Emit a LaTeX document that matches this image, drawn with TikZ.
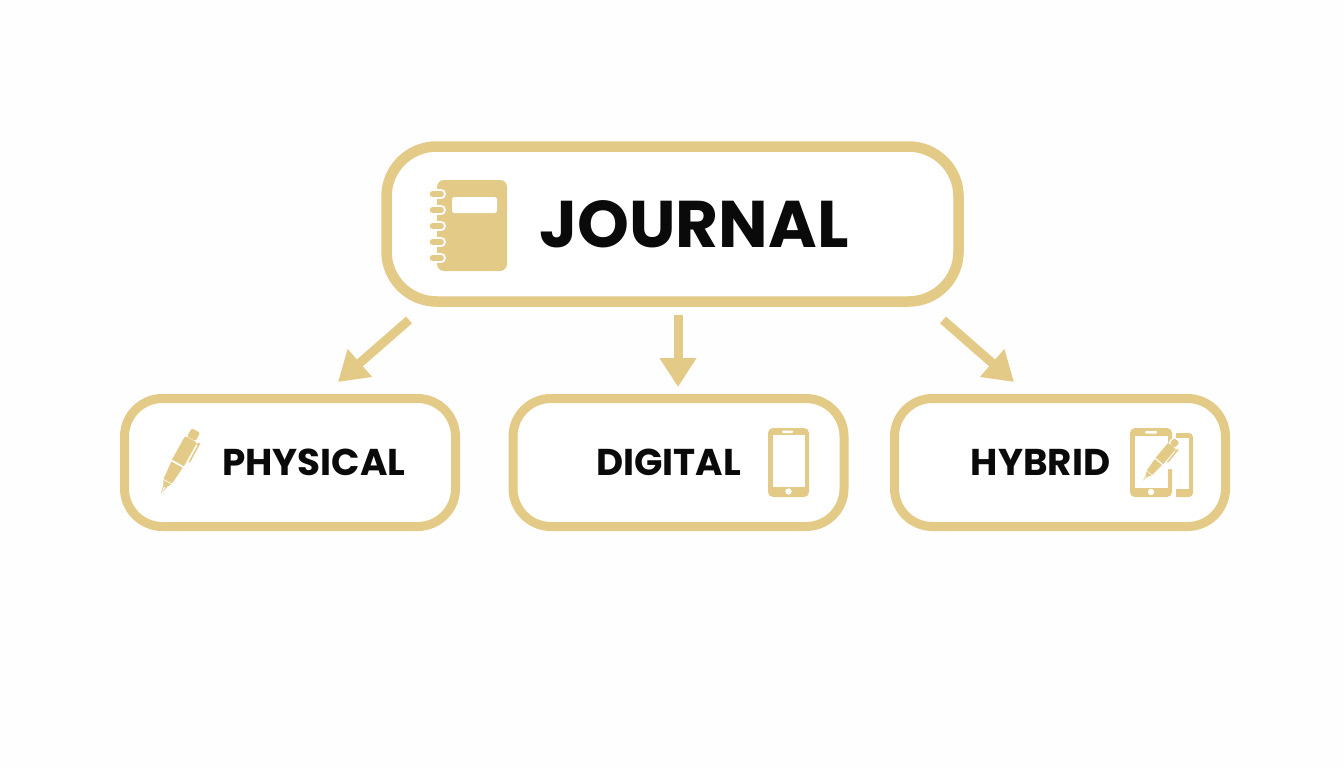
\documentclass[tikz,border=0pt]{standalone}
\usepackage{fontspec}
\setmainfont{Poppins}
\usetikzlibrary{arrows.meta}
\definecolor{gold}{HTML}{E3CA87}
\definecolor{paper}{HTML}{FEFEFE}
\definecolor{ink}{HTML}{0A0A0A}
\tikzset{
  mainbox/.style={draw=gold,line width=10.5pt,rounded corners=50pt,fill=white,minimum width=572pt,minimum height=155pt,inner sep=0pt},
  subbox/.style={draw=gold,line width=9pt,rounded corners=38pt,fill=white,minimum width=331pt,minimum height=128pt,inner sep=0pt},
  maintext/.style={font=\fontsize{66}{66}\selectfont\bfseries,text=ink,inner sep=0pt},
  subtext/.style={font=\fontsize{37.3}{37.3}\selectfont\bfseries,text=ink,inner sep=0pt},
  flow/.style={draw=gold,line width=9pt,-{Triangle[length=29pt,width=35pt,fill=gold]}},
  pen/.pic={
    \fill[gold] (0,0) -- (9,-2.2) -- (9,2.2) -- cycle;
    \fill[paper] (2,0) -- (7,-0.8) -- (7,0.8) -- cycle;
    \fill[gold] (9,-2.2) -- (12,-4) -- (13,-4.5) -- (13,4.5) -- (12,4) -- (9,2.2) -- cycle;
    \fill[gold] (14,-4.8) -- (33,-6.5) -- (33,6.5) -- (14,4.8) -- cycle;
    \fill[gold] (35,-6.8) -- (61,-6.8) -- (62,-4.5) -- (62,4.5) -- (61,6.8) -- (35,6.8) -- cycle;
    \fill[gold,rounded corners=2pt] (62.5,-4.8) rectangle (72,4.8);
    \draw[gold,line width=1.5pt] (60,7.2) -- (62,9.4) -- (41,9.6);
  }
}
\begin{document}
\begin{tikzpicture}[x=1pt,y=-1pt]
\useasboundingbox (0,0) rectangle (1344,768);
\fill[paper] (0,0) rectangle (1344,768);

\node[mainbox] (journal) at (672.5,224) {};
\node[subbox] (physical) at (290,462.5) {};
\node[subbox] (digital) at (678.5,462.5) {};
\node[subbox] (hybrid) at (1060,462.5) {};

\node[maintext] (journaltext) at (694,224) {JOURNAL};
\node[subtext] (physicaltext) at (314,462.5) {PHYSICAL};
\node[subtext] (digitaltext) at (668.5,462.5) {DIGITAL};
\node[subtext] (hybridtext) at (1040.5,462.5) {HYBRID};

% connectors
\coordinate (a1s) at (409,320); \coordinate (a1e) at (338,382);
\coordinate (a2s) at (678,315); \coordinate (a2e) at (678,387);
\coordinate (a3s) at (943,320); \coordinate (a3e) at (1014,382);
\draw[flow] (a1s) -- (a1e);
\draw[flow] (a2s) -- (a2e);
\draw[flow] (a3s) -- (a3e);

% notebook icon
\fill[gold,rounded corners=7pt] (437,180) rectangle (507,271);
\fill[white,rounded corners=2.5pt] (452,197) rectangle (497,213);
\foreach \yy in {194,210,226,242,258}{
  \draw[white,line width=10pt,line cap=round] (428,\yy) -- (441,\yy);
  \draw[gold,line width=5.6pt,line cap=round] (432.5,\yy) -- (441,\yy);
}

% physical pen
\pic[rotate=61] at (161,493.5) {pen};

% digital phone
\fill[gold,rounded corners=5pt] (768,428) rectangle (809,497);
\fill[white] (772.5,435) rectangle (804.5,487);
\fill[white,rounded corners=1pt] (782,430.5) rectangle (793,433);
\fill[white] (788.5,491.5) circle (3.2);

% hybrid phones
\fill[gold,rounded corners=4pt] (1160,433) rectangle (1193,497);
\fill[white] (1164,438) rectangle (1189,489);
\fill[white] (1153,426) rectangle (1176,499);
\fill[gold,rounded corners=5pt] (1130,428) rectangle (1172,497);
\fill[white] (1134.5,436) rectangle (1167.5,488);
\fill[white,rounded corners=1pt] (1145,431) rectangle (1157,433.5);
\fill[white] (1151,492) circle (3.2);
\fill[white] (1164,450) -- (1171,439) -- (1184,441) -- (1182,452) -- (1172,469) -- (1164,469) -- cycle;
\pic[rotate=50,scale=0.73] at (1143,480.5) {pen};
\end{tikzpicture}
\end{document}
